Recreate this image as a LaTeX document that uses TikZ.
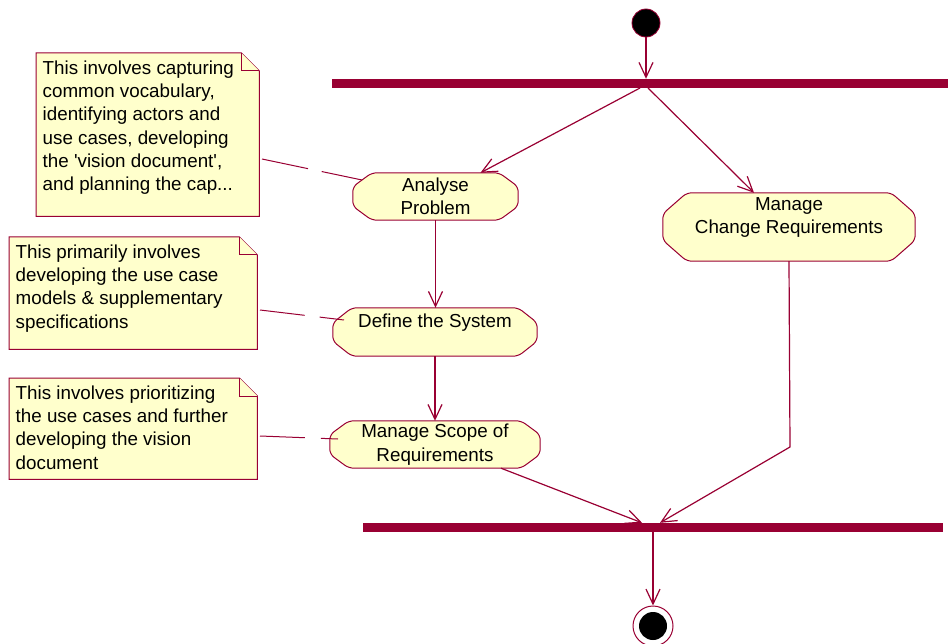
\documentclass[tikz,border=0pt]{standalone}
\usepackage{fontspec}
\setmainfont{Liberation Sans}
\usetikzlibrary{arrows.meta,calc}
\pgfdeclarelayer{background}
\pgfsetlayers{background,main}

\definecolor{rosered}{RGB}{153,0,51}
\definecolor{rosefill}{RGB}{255,255,204}

% body of a note: top-aligned box of fixed size
\newcommand\notebody[3]{\parbox[t][#2][t]{#1}{\raggedright\rule{0pt}{21pt}#3}}

% octagonal outline of an activity state (node, x cut, y cut)
\newcommand\actoutline[3]{%
  \begin{pgfonlayer}{background}
    \draw[actedge] ([xshift=#2]#1.north west) -- ([xshift=-#2]#1.north east)
      -- ([yshift=-#3]#1.north east) -- ([yshift=#3]#1.south east)
      -- ([xshift=-#2]#1.south east) -- ([xshift=#2]#1.south west)
      -- ([yshift=#3]#1.south west) -- ([yshift=-#3]#1.north west) -- cycle;
  \end{pgfonlayer}}

% note outline with folded corner
\newcommand\noteoutline[1]{%
  \begin{pgfonlayer}{background}
    \draw[noteedge] (#1.north west) -- ([xshift=-18pt]#1.north east)
      -- ([yshift=-18pt]#1.north east) -- (#1.south east)
      -- (#1.south west) -- cycle;
    \draw[noteedge] ([xshift=-18pt]#1.north east) |- ([yshift=-18pt]#1.north east);
  \end{pgfonlayer}}

\tikzset{
  txt/.style={font=\fontsize{18.8pt}{23.3pt}\selectfont, text=black},
  activity/.style={txt, rectangle, inner sep=0pt, align=center},
  actedge/.style={draw=rosered, line width=1pt, fill=rosefill, rounded corners=5pt},
  note/.style={txt, rectangle, inner xsep=6.5pt, inner ysep=0pt, anchor=north west},
  noteedge/.style={draw=rosered, line width=1pt, fill=rosefill},
  syncbar/.style={rectangle, fill=rosered, inner sep=0pt, minimum height=9pt},
  flow/.style={draw=rosered, line width=1.2pt, -{Straight Barb[length=15pt,width=14pt,line width=1.2pt]}},
  anchorline/.style={draw=rosered, line width=1pt},
}

\begin{document}
\begin{tikzpicture}[x=1pt,y=-1pt]
\useasboundingbox (0,0) rectangle (948,644);

% initial and final states
\node[circle, fill=black, draw=rosered, line width=0.8pt, minimum size=28pt, inner sep=0pt] (start) at (646,23) {};
\node[circle, draw=rosered, line width=1pt, minimum size=40pt, inner sep=0pt] (finish) at (653,626) {};
\node[circle, fill=black, minimum size=28pt, inner sep=0pt] (finishdot) at (653,626) {};

% synchronisation bars
\node[syncbar, minimum width=616pt] (fork) at (640,83.5) {};
\node[syncbar, minimum width=580pt] (join) at (653,527.5) {};

% activity states
\node[activity, minimum width=165pt, minimum height=47pt] (analyse) at (435.5,196.5) {Analyse\\Problem};
\actoutline{analyse}{19pt}{14pt}
\node[activity, minimum width=204pt, minimum height=48pt] (define) at (435,332) {Define the System\\\mbox{}};
\actoutline{define}{19pt}{15pt}
\node[activity, minimum width=210pt, minimum height=47pt] (scope) at (435,444.5) {Manage Scope of\\Requirements};
\actoutline{scope}{19pt}{14pt}
\node[activity, minimum width=252pt, minimum height=68pt] (change) at (789,227) {Manage\\Change Requirements\\\mbox{}};
\actoutline{change}{24pt}{21pt}

% notes
\node[note] (n1) at (36,53) {\notebody{210pt}{163pt}{This involves capturing\\common vocabulary,\\identifying actors and\\use cases, developing\\the \textquotesingle vision document\textquotesingle,\\and planning the cap...}};
\noteoutline{n1}
\node[note] (n2) at (9,237) {\notebody{235pt}{112pt}{This primarily involves\\developing the use case\\models \& supplementary\\specifications}};
\noteoutline{n2}
\node[note] (n3) at (9,378) {\notebody{235pt}{101pt}{This involves prioritizing\\the use cases and further\\developing the vision\\document}};
\noteoutline{n3}

% note anchors
\coordinate (n1a) at (262,159);
\coordinate (a1a) at (362,180);
\coordinate (n2a) at (260,310);
\coordinate (a2a) at (344,320);
\coordinate (n3a) at (260,436);
\coordinate (a3a) at (338,439);
\draw[anchorline, dash pattern=on 47pt off 14pt on 80pt] (n1a) -- (a1a);
\draw[anchorline, dash pattern=on 45pt off 15pt on 60pt] (n2a) -- (a2a);
\draw[anchorline, dash pattern=on 45pt off 16pt on 60pt] (n3a) -- (a3a);

% transitions
\coordinate (f1) at (640,88);
\coordinate (f2) at (648,88);
\coordinate (cbend) at (790,447);
\draw[flow] (start.south) -- (start.south |- fork.north);
\draw[flow] (f1) -- ([xshift=45pt]analyse.north);
\draw[flow] (f2) -- ([xshift=-35pt]change.north);
\draw[flow] (analyse.south) -- (analyse.south |- define.north);
\draw[flow] (define.south) -- (define.south |- scope.north);
\draw[flow] ([xshift=66pt]scope.south) -- ([xshift=-11pt]join.north);
\draw[flow] (change.south) -- (cbend) -- ([xshift=7pt]join.north);
\draw[flow] (join.south) -- (finish.north);
\end{tikzpicture}
\end{document}
